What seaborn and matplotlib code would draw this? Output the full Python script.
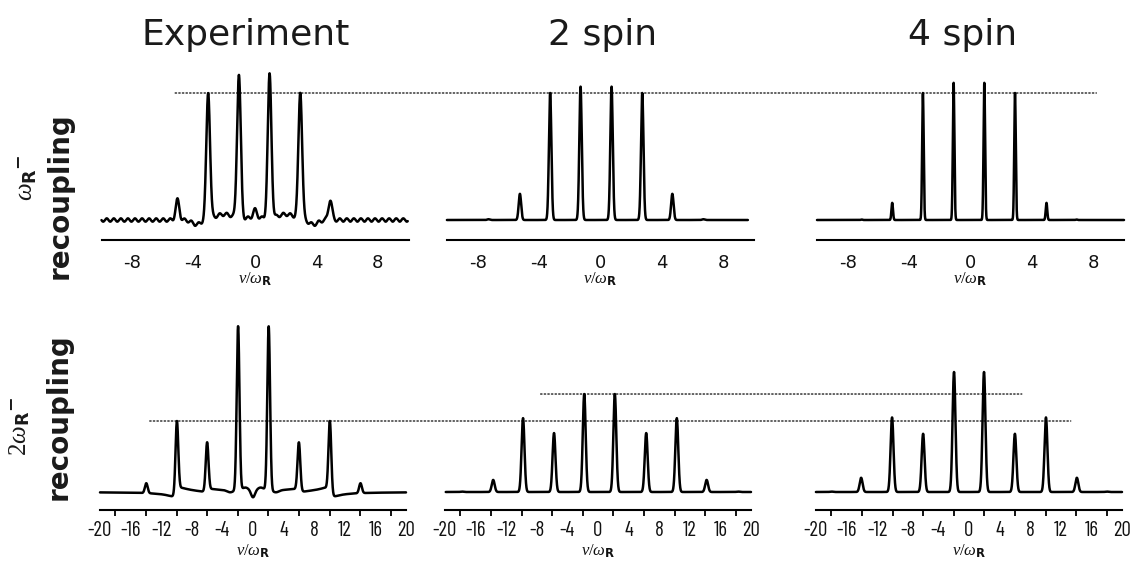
import numpy as np
import pandas as pd
import matplotlib
matplotlib.use('Agg')
import matplotlib.pyplot as plt
import seaborn as sns
from matplotlib.patches import ConnectionPatch

sns.set_theme(style='white')
plt.rcParams['font.family'] = ['DejaVu Sans']
plt.rcParams['mathtext.fontset'] = 'custom'
plt.rcParams['mathtext.rm'] = 'Liberation Serif'
plt.rcParams['mathtext.it'] = 'Liberation Serif:italic'
plt.rcParams['mathtext.bf'] = 'DejaVu Sans:bold'

# ---------------- text ----------------
column_titles = ['Experiment', '2 spin', '4 spin']
row_label_math = [r'$\omega_{\mathbf{R}}{}^{\mathbf{-}}$', r'$2\omega_{\mathbf{R}}{}^{\mathbf{-}}$']
row_label_word = ['recoupling', 'recoupling']
x_label = r'$\nu/\omega_{\mathbf{R}}$'

# ---------------- tick values ----------------
top_ticks = [-8, -4, 0, 4, 8]
top_xlim = [-10, 10]
bottom_ticks = [-20, -16, -12, -8, -4, 0, 4, 8, 12, 16, 20]
bottom_minor_ticks = [-18, -14, -10, -6, -2, 2, 6, 10, 14, 18]
bottom_xlim = [-20, 20]

# ---------------- top row (omega_R recoupling) ----------------
# experiment sidebands
top_exp_pos = [-5.05, -3.05, -1.05, 0.95, 2.95, 4.9]
top_exp_int = [0.158, 1.0, 1.13, 1.13, 1.0, 0.158]
top_exp_sigma = 0.12
top_exp_feat_pos = [-3.8, -2.0, 0.0, 0.0, 2.0, 3.8]
top_exp_feat_int = [-0.035, 0.045, 0.02, 0.06, 0.045, -0.035]
top_exp_feat_sigma = [0.3, 0.6, 0.5, 0.12, 0.6, 0.3]
top_exp_ripple_amp = 0.013
top_exp_ripple_period = 0.46
top_exp_range = [-10.0, 9.95]

# 2 spin simulation
top_2s_pos = [-7.3, -5.25, -3.28, -1.3, 0.72, 2.72, 4.68, 6.7]
top_2s_int = [0.006, 0.206, 1.0, 1.05, 1.05, 1.0, 0.206, 0.006]
top_2s_sigma = 0.08
top_2s_range = [-10.2, 9.6]

# 4 spin simulation
top_4s_pos = [-7.1, -5.1, -3.1, -1.1, 0.9, 2.9, 4.95, 6.9]
top_4s_int = [0.004, 0.135, 1.0, 1.08, 1.08, 1.0, 0.135, 0.004]
top_4s_sigma = 0.05
top_4s_range = [-10.1, 10.0]

# ---------------- bottom row (2 omega_R recoupling) ----------------
bot_exp_pos = [-13.95, -9.95, -6.0, -1.95, 2.05, 6.0, 10.05, 14.05]
bot_exp_int = [0.14, 1.0, 0.676, 2.31, 2.31, 0.676, 1.0, 0.14]
bot_exp_sigma = 0.18
bot_exp_feat_pos = [0.0, -1.0, 1.0, -3.0, 3.0]
bot_exp_feat_int = [-0.10, 0.04, 0.04, -0.03, -0.03]
bot_exp_feat_sigma = [0.25, 0.4, 0.4, 0.4, 0.4]
bot_exp_disp_pos = [-9.95, 10.05, -6.0, 6.0]
bot_exp_disp_int = [0.06, -0.06, 0.02, -0.02]
bot_exp_disp_width = [0.6, 0.6, 0.6, 0.6]
bot_exp_range = [-20.0, 20.0]

bot_2s_pos = [-17.8, -13.7, -9.8, -5.75, -1.8, 2.2, 6.3, 10.3, 14.2, 18.3]
bot_2s_int = [0.006, 0.17, 1.04, 0.83, 1.38, 1.38, 0.83, 1.04, 0.17, 0.006]
bot_2s_sigma = 0.19
bot_2s_range = [-19.9, 20.3]

bot_4s_pos = [-18.0, -14.1, -10.06, -6.0, -1.96, 1.96, 6.0, 10.06, 14.1, 18.0]
bot_4s_int = [0.006, 0.2, 1.05, 0.82, 1.69, 1.69, 0.82, 1.05, 0.2, 0.006]
bot_4s_sigma = 0.19
bot_4s_range = [-20.1, 20.0]

# dotted reference levels
ref_rows = [0, 1, 1]
ref_col_start = [0, 0, 1]
ref_x_start = [-5.2, -13.5, -7.5]
ref_col_end = [2, 2, 2]
ref_x_end = [8.2, 13.3, 6.9]
ref_level = [1.0, 1.0, 1.38]


def gauss_sum(x, pos, amp, sig):
    y = np.zeros_like(x)
    sig = np.broadcast_to(np.asarray(sig, dtype=float), (len(pos),))
    for p, a, s in zip(pos, amp, sig):
        y += a * np.exp(-0.5 * ((x - p) / s) ** 2)
    return y


def disp_sum(x, pos, amp, wid):
    y = np.zeros_like(x)
    for p, a, w in zip(pos, amp, wid):
        d = x - p
        y += a * 2 * d * w / (d ** 2 + w ** 2)
    return y


def grid(r, step):
    return np.arange(r[0], r[1] + step / 2, step)


x = grid(top_exp_range, 0.005)
y = (gauss_sum(x, top_exp_pos, top_exp_int, top_exp_sigma)
     + gauss_sum(x, top_exp_feat_pos, top_exp_feat_int, top_exp_feat_sigma)
     + top_exp_ripple_amp * np.cos(2 * np.pi * x / top_exp_ripple_period))
df_top_exp = pd.DataFrame({'x': x, 'y': y})

x = grid(top_2s_range, 0.005)
df_top_2s = pd.DataFrame({'x': x, 'y': gauss_sum(x, top_2s_pos, top_2s_int, top_2s_sigma)})
x = grid(top_4s_range, 0.004)
df_top_4s = pd.DataFrame({'x': x, 'y': gauss_sum(x, top_4s_pos, top_4s_int, top_4s_sigma)})

x = grid(bot_exp_range, 0.01)
y = (gauss_sum(x, bot_exp_pos, bot_exp_int, bot_exp_sigma)
     + gauss_sum(x, bot_exp_feat_pos, bot_exp_feat_int, bot_exp_feat_sigma)
     + disp_sum(x, bot_exp_disp_pos, bot_exp_disp_int, bot_exp_disp_width))
df_bot_exp = pd.DataFrame({'x': x, 'y': y})
x = grid(bot_2s_range, 0.01)
df_bot_2s = pd.DataFrame({'x': x, 'y': gauss_sum(x, bot_2s_pos, bot_2s_int, bot_2s_sigma)})
x = grid(bot_4s_range, 0.01)
df_bot_4s = pd.DataFrame({'x': x, 'y': gauss_sum(x, bot_4s_pos, bot_4s_int, bot_4s_sigma)})

frames = [[df_top_exp, df_top_2s, df_top_4s], [df_bot_exp, df_bot_2s, df_bot_4s]]

# ---------------- figure ----------------
W, H = 1131, 566
fig = plt.figure(figsize=(W / 100, H / 100), dpi=100)


def frac_rect(x0, ytop, w, ybot):
    return [x0 / W, 1 - ybot / H, w / W, (ybot - ytop) / H]


top_x0 = [101.5, 447, 817]
bot_x0 = [100, 445, 816]
axes = [[fig.add_axes(frac_rect(x0, 70, 307, 240)) for x0 in top_x0],
        [fig.add_axes(frac_rect(x0, 310, 306, 510)) for x0 in bot_x0]]

narrow_family = ['Barlow Condensed', 'DejaVu Sans']

for r in range(2):
    for c in range(3):
        ax = axes[r][c]
        ax.set_facecolor('none')
        sns.lineplot(data=frames[r][c], x='x', y='y', ax=ax, color='black',
                     linewidth=1.8, estimator=None, sort=False)
        for ln in ax.lines:
            ln.set_clip_on(False)
        for s in ['left', 'right', 'top']:
            ax.spines[s].set_visible(False)
        ax.spines['bottom'].set_linewidth(1.5)
        ax.spines['bottom'].set_color('black')
        ax.set_yticks([])
        ax.set_ylabel('')
        if r == 0:
            ax.set_xlim(top_xlim)
            ax.set_ylim(-20 / 127, 150 / 127)
            ax.set_xticks(top_ticks)
            ax.set_xticklabels([str(t) for t in top_ticks])
            ax.tick_params(axis='x', direction='out', length=7, width=1.5,
                           color='black', pad=3, labelsize=13, labelcolor='#111111')
            ax.set_xlabel(x_label, fontsize=12, labelpad=-1, color='#111111')
        else:
            ax.set_xlim(bottom_xlim)
            ax.set_ylim(-18 / 71, 182 / 71)
            ax.set_xticks(bottom_ticks)
            ax.set_xticks(bottom_minor_ticks, minor=True)
            ax.set_xticklabels([str(t) for t in bottom_ticks])
            for lab in ax.get_xticklabels():
                lab.set_fontfamily(narrow_family)
                lab.set_fontweight('normal')
                lab.set_fontsize(15)
            ax.tick_params(axis='x', which='major', direction='out', length=5,
                           width=1.3, color='black', pad=3, labelcolor='#111111')
            ax.tick_params(axis='x', which='minor', direction='out', length=4,
                           width=1.3, color='black', bottom=True)
            ax.set_xlabel(x_label, fontsize=12, labelpad=1, color='#111111')

# dotted reference lines across panels
for row, ca, xa, cb, xb, lev in zip(ref_rows, ref_col_start, ref_x_start,
                                    ref_col_end, ref_x_end, ref_level):
    con = ConnectionPatch(xyA=(xa, lev), coordsA=axes[row][ca].transData,
                          xyB=(xb, lev), coordsB=axes[row][cb].transData,
                          linestyle=(0, (1, 1.6)), linewidth=1.0, color='#222222')
    con.set_zorder(0)
    fig.add_artist(con)

# column titles
title_x = [246, 603, 963]
for t, tx in zip(column_titles, title_x):
    fig.text(tx / W, 1 - 45 / H, t, ha='center', va='baseline', fontsize=26,
             color='#1a1a1a')

# row labels
word_pos = [(60, 196), (59, 417)]
math_pos = [(27, 178), (20, 426)]
for i in range(2):
    fig.text(word_pos[i][0] / W, 1 - word_pos[i][1] / H, row_label_word[i],
             rotation=90, ha='center', va='center', fontsize=20,
             fontweight='bold', color='#1a1a1a')
    fig.text(math_pos[i][0] / W, 1 - math_pos[i][1] / H, row_label_math[i],
             rotation=90, ha='center', va='center', fontsize=18, color='#1a1a1a')

fig.savefig('out.png', dpi=100)
